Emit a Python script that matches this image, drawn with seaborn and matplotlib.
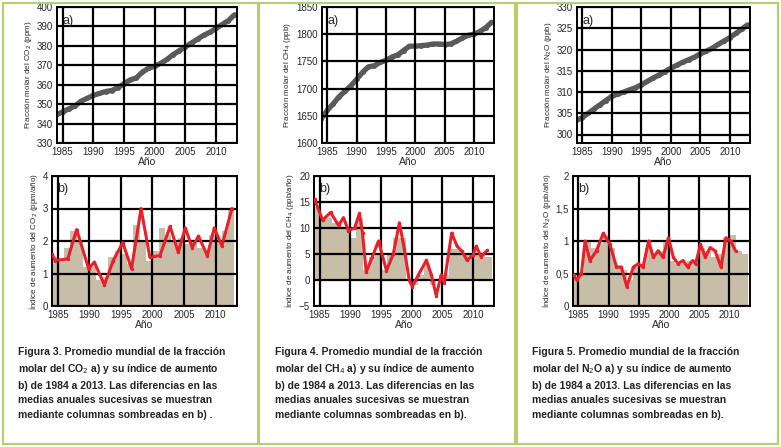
import numpy as np
import pandas as pd
import matplotlib
matplotlib.use("Agg")
import matplotlib.pyplot as plt
import seaborn as sns
from matplotlib.patches import Rectangle

sns.set_style("white")
plt.rcParams['font.family'] = ['Liberation Sans', 'DejaVu Sans']

years = list(range(1984, 2014))
co2_mean = [344.5,346,347.5,349,351.5,353,354.5,355.5,356.5,357,358.5,360.5,362.5,363.5,366.5,
            368.5,369.5,371,373,375.5,377.5,379.5,381.5,383.5,385.5,387,389,391,393,396]
ch4_mean = [1645,1660,1672,1685,1695,1705,1717,1730,1740,1742,1748,1752,1758,1762,1770,1778,1778,
            1779,1780,1782,1782,1781,1782,1787,1793,1798,1800,1805,1812,1822]
n2o_mean = [303.3,304,305,306,307,308,309,309.5,310,310.5,311,311.7,312.5,313.3,314,314.8,315.6,
            316.3,317,317.6,318.2,319,319.6,320.3,321.2,322,322.8,323.8,324.8,325.8]

bar_years = list(range(1984, 2013))
co2_bars = [1.5,1.4,1.8,2.3,2.0,1.2,1.2,0.8,0.9,1.5,1.7,1.6,1.3,2.5,2.0,1.4,1.7,2.4,2.2,2.0,2.1,
            1.9,2.0,1.8,1.7,2.2,2.0,2.3,3.0]
ch4_bars = [14,12,12,11,10,10,8,12,2,4.5,5,2,5,8,8,0,-1,1,3,-1,0,1,6,6,5,5,5,5,4.5]
n2o_bars = [0.45,0.5,1.0,0.9,0.95,1.1,0.9,0.6,0.55,0.4,0.6,0.65,0.9,0.8,0.85,1.0,0.7,0.65,0.65,
            0.7,0.65,0.9,0.85,0.75,0.8,1.05,1.1,0.85,0.8]

co2_gx = [1984.1,1984.6,1986.6,1988.0,1989.9,1990.8,1991.6,1992.4,1993.8,1995.3,1996.7,1998.2,
          1999.6,2001.2,2002.8,2004.1,2005.2,2006.3,2007.3,2008.7,2009.8,2011.0,2012.6]
co2_gy = [1.6,1.4,1.45,2.35,1.15,1.35,1.0,0.65,1.4,1.95,1.15,3.0,1.5,1.55,2.45,1.65,2.4,1.8,2.15,
          1.55,2.4,1.85,3.0]
ch4_gx = [1984.2,1985.5,1986.8,1988.1,1988.9,1989.7,1990.7,1991.5,1992.0,1992.6,1993.6,1994.6,
          1995.9,1997.0,1998.0,1998.8,1999.6,2000.1,2001.1,2002.4,2003.2,2004.0,2004.8,2005.3,
          2006.5,2007.4,2008.2,2009.0,2010.0,2010.5,2011.3,2012.3]
ch4_gy = [15.5,11.5,13,10.5,12,9.5,10,12.8,9,1.5,4.5,7.5,1.8,5,11,6,0,-1.3,1,3.8,1,-3,1,-0.5,
          9,6.5,5.5,3.8,4.8,6.5,4.5,5.7]
n2o_gx = [1984.2,1984.7,1985.5,1986.1,1986.9,1988.0,1989.1,1990.2,1991.3,1992.1,1993.0,1994.1,
          1994.9,1995.7,1996.6,1997.4,1998.2,1999.0,1999.9,2000.7,2001.5,2002.3,2003.1,2003.9,
          2004.4,2005.2,2006.0,2006.8,2007.6,2008.6,2009.4,2010.2,2011.0]
n2o_gy = [0.48,0.4,0.5,1.0,0.7,0.85,1.12,0.95,0.6,0.6,0.3,0.6,0.65,0.6,1.0,0.75,0.85,0.75,1.05,
          0.75,0.65,0.7,0.6,0.7,0.65,0.95,0.75,0.9,0.85,0.6,1.05,1.0,0.85]

xticks = [1985, 1990, 1995, 2000, 2005, 2010]
xlim = (1984.1, 2013.4)

fig = plt.figure(figsize=(7.81, 4.47), dpi=100)
W, H = 781, 447

def ax_at(x0, y0, x1, y1):
    return fig.add_axes([x0 / W, 1 - y1 / H, (x1 - x0) / W, (y1 - y0) / H])

green = '#b5cf6b'
for bx0, bx1 in [(3, 258), (259, 515), (517, 778)]:
    fig.patches.append(Rectangle((bx0 / W, 3 / H), (bx1 - bx0) / W, 441 / H, transform=fig.transFigure,
                                 fill=False, edgecolor=green, lw=1.5))

def style(ax, ylim, yticks, ylab, letter, yfmt=None):
    ax.set_xlim(*xlim)
    ax.set_ylim(*ylim)
    ax.set_xticks(xticks)
    ax.set_yticks(yticks)
    if yfmt:
        ax.set_yticklabels(yfmt)
    ax.grid(True, color='black', lw=1.6)
    ax.set_axisbelow(False)
    for s in ax.spines.values():
        s.set_color('black'); s.set_linewidth(1.4)
    ax.tick_params(labelsize=7, length=2, pad=1)
    ax.set_xlabel('Año', fontsize=7.5, labelpad=0)
    ax.set_ylabel(ylab, fontsize=5.8, labelpad=2)
    ax.text(0.03, 0.9, letter, transform=ax.transAxes, fontsize=9, va='center')

def top(ax, vals, ylim, yticks, ylab):
    df = pd.DataFrame({'x': years, 'y': vals})
    sns.lineplot(data=df, x='x', y='y', ax=ax, color='#5a5a5a', lw=3.8, marker='o',
                 markersize=3.5, markeredgewidth=0)
    style(ax, ylim, yticks, ylab, 'a)')

def bottom(ax, bars, gx, gy, ylim, yticks, ylab, yfmt=None):
    ax.bar(np.array(bar_years) + 0.5, bars, width=1.0, color='#c8bea8', edgecolor='none', zorder=1)
    df = pd.DataFrame({'x': gx, 'y': gy})
    sns.lineplot(data=df, x='x', y='y', ax=ax, color='#e8202a', lw=2.2, marker='o', markersize=2.5,
                 markeredgewidth=0, zorder=3)
    style(ax, ylim, yticks, ylab, 'b)', yfmt)

a = ax_at(57, 7, 237, 143)
top(a, co2_mean, (330, 400), range(330, 401, 10), 'Fracción molar del CO$_2$ (ppm)')
a = ax_at(52, 176, 237, 306)
bottom(a, co2_bars, co2_gx, co2_gy, (0, 4), range(0, 5), 'Índice de aumento del CO$_2$ (ppm/año)')

a = ax_at(322, 7, 494, 143)
top(a, ch4_mean, (1600, 1850), range(1600, 1851, 50), 'Fracción molar del CH$_4$ (ppb)')
a = ax_at(314, 176, 494, 306)
bottom(a, ch4_bars, ch4_gx, ch4_gy, (-5, 20), range(-5, 21, 5), 'Índice de aumento del CH$_4$ (ppb/año)')

a = ax_at(577, 7, 750, 143)
top(a, n2o_mean, (298, 330), range(300, 331, 5), 'Fracción molar del N$_2$O (ppb)')
a = ax_at(573, 176, 750, 306)
bottom(a, n2o_bars, n2o_gx, n2o_gy, (0, 2), [0, 0.5, 1, 1.5, 2], 'Índice de aumento del N$_2$O (ppb/año)',
       ['0', '0,5', '1', '1,5', '2'])

caps = [
    (18, "Figura 3. Promedio mundial de la fracción\nmolar del CO$_2$ a) y su índice de aumento\nb) de 1984 a 2013. Las diferencias en las\nmedias anuales sucesivas se muestran\nmediante columnas sombreadas en b) ."),
    (275, "Figura 4. Promedio mundial de la fracción\nmolar del CH$_4$ a) y su índice de aumento\nb) de 1984 a 2013. Las diferencias en las\nmedias anuales sucesivas se muestran\nmediante columnas sombreadas en b)."),
    (532, "Figura 5. Promedio mundial de la fracción\nmolar del N$_2$O a) y su índice de aumento\nb) de 1984 a 2013. Las diferencias en las\nmedias anuales sucesivas se muestran\nmediante columnas sombreadas en b)."),
]
for x, t in caps:
    fig.text(x / W, 1 - 347 / H, t, fontsize=7.5, fontweight='bold', va='top', ha='left',
             color='#222222', linespacing=1.55)

fig.savefig('out.png', dpi=100)
